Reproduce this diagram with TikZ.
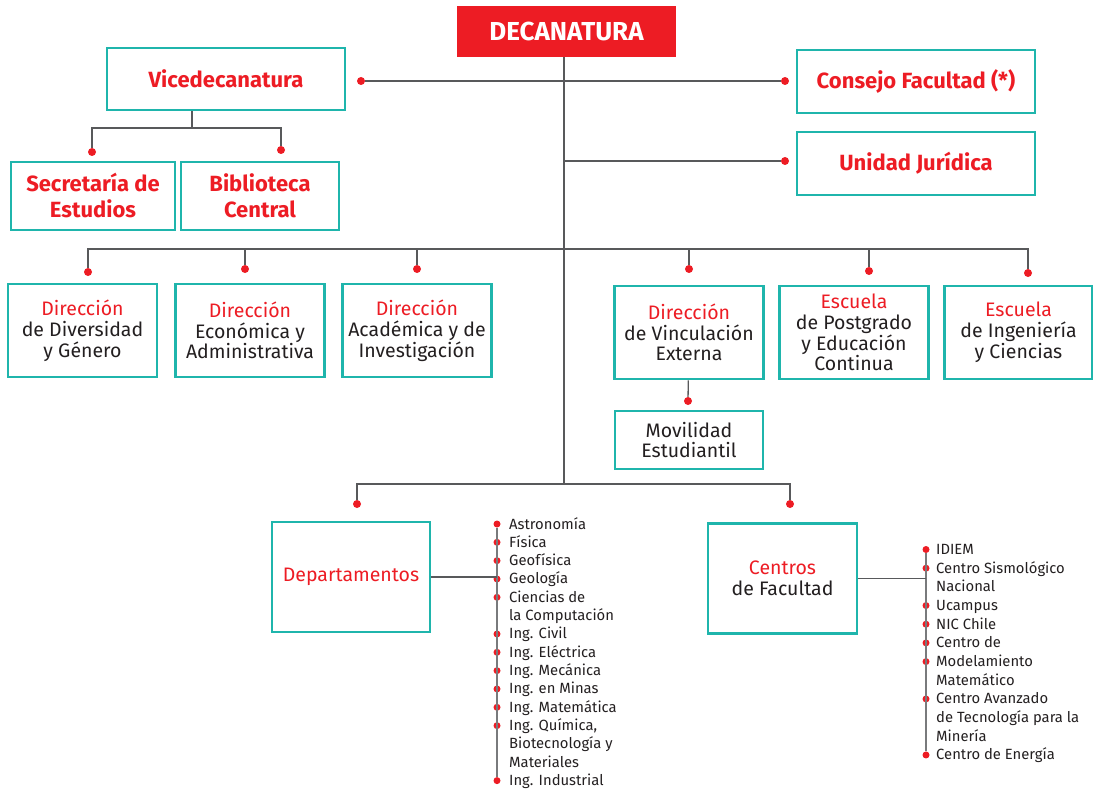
\documentclass[tikz,border=0pt]{standalone}
\usepackage{fontspec}
\setmainfont{Fira Sans}
\usetikzlibrary{positioning}
\definecolor{ured}{HTML}{ED1C24}
\definecolor{uteal}{HTML}{1FB5AC}
\definecolor{uline}{HTML}{58595B}
\definecolor{utext}{HTML}{231F20}

\begin{document}
\begin{tikzpicture}[x=1pt, y=-1pt,
    unit/.style={draw=uteal, line width=2.8pt, fill=white, inner sep=0pt, align=center,
        text=utext, font=\fontsize{19.5}{20.8}\selectfont},
    head/.style={unit, text=ured, font=\fontsize{22}{26}\bfseries\selectfont},
    wire/.style={draw=uline, line width=1.3pt},
    listline/.style={draw=uline!80, line width=2pt},
    dot/.style={circle, fill=ured, inner sep=0pt, minimum size=8pt},
    item/.style={anchor=base west, inner sep=0pt, text=utext, font=\fontsize{14.8}{18}\selectfont}]
\useasboundingbox (0,0) rectangle (1093,789);

% top
\node [fill=ured, minimum width=219pt, minimum height=51pt, text=white,
       font=\fontsize{26}{30}\bfseries\selectfont] (dec) at (566.5,31.5) {DECANATURA};
\coordinate (trunk) at (564,484);
\coordinate (vbar) at (192,128);
\coordinate (rowbar) at (564,249);

\node [head, minimum width=238pt, minimum height=62pt] (vice) at (226,79) {Vicedecanatura};
\node [head, minimum width=238pt, minimum height=63pt] (consejo) at (916,81.5) {Consejo Facultad (*)};
\node [head, minimum width=238pt, minimum height=63pt] (juridica) at (916,163.5) {Unidad Jurídica};
\node [head, minimum width=164pt, minimum height=68pt] (secre) at (93,196) {Secretaría de\\Estudios};
\node [head, minimum width=158pt, minimum height=68pt] (biblio) at (260,196) {Biblioteca\\Central};

% row of direcciones
\node [unit, minimum width=149pt, minimum height=93pt] (div) at (82.5,330.5)
    {\textcolor{ured}{Dirección}\\de Diversidad\\y Género};
\node [unit, minimum width=149pt, minimum height=93pt] (eco) at (250,330.5)
    {\textcolor{ured}{Dirección}\\Económica y\\Administrativa};
\node [unit, minimum width=149pt, minimum height=93pt] (aca) at (417,330.5)
    {\textcolor{ured}{Dirección}\\Académica y de\\Investigación};
\node [unit, minimum width=149pt, minimum height=93pt] (vin) at (689,332.5)
    {\textcolor{ured}{Dirección}\\de Vinculación\\Externa};
\node [unit, minimum width=149pt, minimum height=93pt] (pos) at (854,332.5)
    {\textcolor{ured}{Escuela}\\de Postgrado\\y Educación\\Continua};
\node [unit, minimum width=148pt, minimum height=93pt] (ing) at (1018.5,332.5)
    {\textcolor{ured}{Escuela}\\de Ingeniería\\y Ciencias};
\node [unit, minimum width=148pt, minimum height=58pt] (mov) at (689,440) {Movilidad\\Estudiantil};

\node [unit, minimum width=158pt, minimum height=110pt] (dep) at (351,577) {\textcolor{ured}{Departamentos}};
\node [unit, minimum width=149pt, minimum height=110pt] (cen) at (782.5,578.5)
    {\textcolor{ured}{Centros}\\de Facultad};

% dots
\node [dot] (dvice) at (361,81) {};
\node [dot] (dcons) at (785,81) {};
\node [dot] (djur) at (785,161) {};
\node [dot] (dsec) at (92,152) {};
\node [dot] (dbib) at (281,150) {};
\node [dot] (ddiv) at (88,272) {};
\node [dot] (deco) at (245,269) {};
\node [dot] (daca) at (417,269) {};
\node [dot] (dvin) at (689,269) {};
\node [dot] (dpos) at (869,271) {};
\node [dot] (ding) at (1028,273) {};
\node [dot] (dmov) at (688,401) {};
\node [dot] (ddep) at (357,504) {};
\node [dot] (dcen) at (790,504) {};

% connectors
\draw [wire] (dec.south -| trunk) -- (trunk);
\draw [wire] (dvice) -- (dcons);
\draw [wire] (djur -| trunk) -- (djur);
\draw [wire] (vbar |- vice.south) -- (vbar);
\draw [wire] (dsec) |- (vbar) -| (dbib);
\draw [wire] (ddiv) |- (rowbar) -| (ding);
\foreach \d in {deco,daca,dvin,dpos}
    \draw [wire] (\d) -- (\d |- rowbar);
\draw [wire] (vin) -- (dmov);
\draw [wire] (ddep) |- (trunk) -| (dcen);

% departamentos list
\foreach \t [count=\k from 0] in {Astronomía, Física, Geofísica, Geología, Ciencias de,
        la Computación, Ing. Civil, Ing. Eléctrica, Ing. Mecánica, Ing. en Minas,
        Ing. Matemática, {Ing. Química,}, Biotecnología y, Materiales, Ing. Industrial}
    \node [item] (dt\k) at (509,{529+18.33*\k}) {\t};
\foreach \k in {0,1,2,3,4,6,7,8,9,10,11,14}
    \node [dot, minimum size=7pt] (dl\k) at (497,{524+18.33*\k}) {};
\draw [listline] (dl0) -- (dl14);
\draw [wire] (dep) -- (dep -| dl0);

% centros list
\foreach \t [count=\k from 0] in {IDIEM, Centro Sismológico, Nacional, Ucampus, NIC Chile,
        Centro de, Modelamiento, Matemático, Centro Avanzado, de Tecnología para la,
        Minería, Centro de Energía}
    \node [item] (ct\k) at (936,{554.5+18.68*\k}) {\t};
\foreach \k in {0,1,3,4,5,6,8,11}
    \node [dot, minimum size=7pt] (cl\k) at (926,{549.5+18.68*\k}) {};
\draw [listline] (cl0) -- (cl11);
\draw [wire] (cen) -- (cen -| cl0);
\end{tikzpicture}
\end{document}
